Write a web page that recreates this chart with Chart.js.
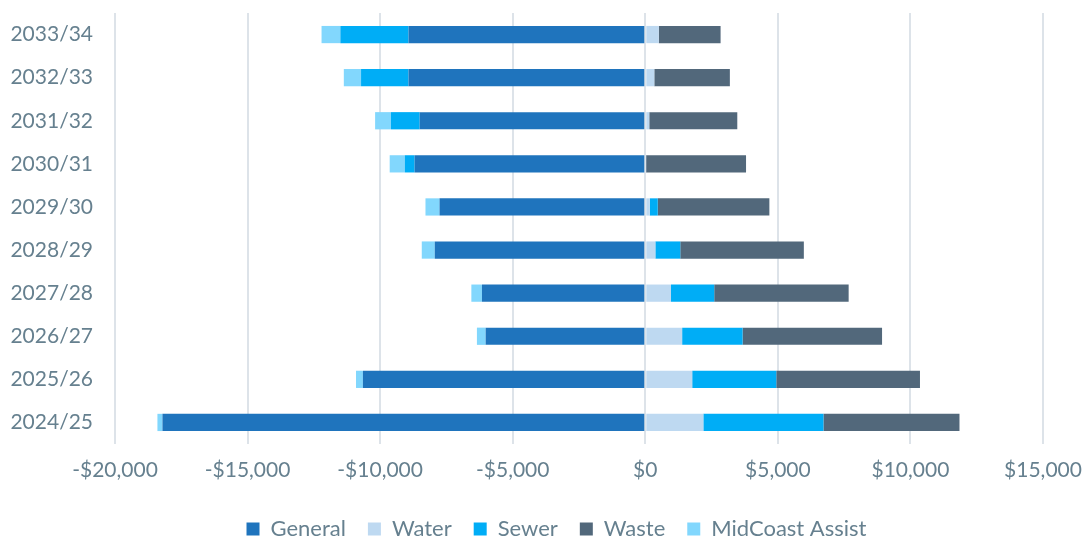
<!DOCTYPE html>
<html>
<head>
<meta charset="utf-8">
<script src="https://cdn.jsdelivr.net/npm/chart.js@4.4.1/dist/chart.umd.min.js"></script>
<style>
  html, body { margin: 0; padding: 0; background: #ffffff; }
  #wrap { width: 1083px; height: 537px; position: relative; }
</style>
</head>
<body>
<div id="wrap"><canvas id="c"></canvas></div>
<script>
// Financial years, oldest first (drawn bottom to top)
const years = ['2024/25', '2025/26', '2026/27', '2027/28', '2028/29',
               '2029/30', '2030/31', '2031/32', '2032/33', '2033/34'];

// Annual result by fund ($)
const general  = [-18210, -10650, -6020, -6160, -7940, -7760, -8700, -8510, -8930, -8930];
const water    = [2190, 1770, 1390, 970, 380, 170, 30, 150, 340, 510];
const sewer    = [4530, 3170, 2280, 1630, 940, 300, -370, -1080, -1790, -2570];
const waste    = [5130, 5420, 5260, 5070, 4660, 4210, 3770, 3320, 2850, 2330];
const midcoast = [-190, -260, -330, -400, -490, -530, -570, -600, -650, -710];

// Value axis ticks
const axisTicks = [-20000, -15000, -10000, -5000, 0, 5000, 10000, 15000];

const textColor = '#66808f';
const gridColor = '#dde3e9';
const fontFamily = 'Lato, "Open Sans", sans-serif';

function money(v) {
  const s = '$' + Math.abs(v).toLocaleString('en-US');
  return v < 0 ? '-' + s : s;
}

// Keeps the legend band compact and nudges it right and down a little
const legendPlacement = {
  id: 'legendPlacement',
  beforeLayout(chart) {
    const lg = chart.legend;
    if (lg && !lg._compactFit) {
      const baseFit = lg.fit;
      lg.fit = function () {
        baseFit.call(this);
        this.height = 50;
      };
      lg._compactFit = true;
    }
  },
  afterLayout(chart) {
    const lg = chart.legend;
    if (lg) {
      lg.left += 15;
      lg.right += 15;
      lg.top += 9;
      lg.bottom += 9;
    }
  }
};

new Chart(document.getElementById('c'), {
  type: 'bar',
  data: {
    labels: years,
    datasets: [
      { label: 'General',         data: general,  backgroundColor: '#1f74bd' },
      { label: 'Water',           data: water,    backgroundColor: '#bed9f1' },
      { label: 'Sewer',           data: sewer,    backgroundColor: '#00adf6' },
      { label: 'Waste',           data: waste,    backgroundColor: '#52687b' },
      { label: 'MidCoast Assist', data: midcoast, backgroundColor: '#82d7fd' }
    ]
  },
  plugins: [legendPlacement],
  options: {
    indexAxis: 'y',
    responsive: true,
    maintainAspectRatio: false,
    animation: false,
    datasets: { bar: { barPercentage: 0.4, categoryPercentage: 1.0, borderWidth: 0 } },
    layout: { padding: { left: 0, right: 0, top: 13, bottom: 0 } },
    plugins: {
      tooltip: { enabled: false },
      legend: {
        position: 'bottom',
        labels: {
          color: textColor,
          font: { family: fontFamily, size: 22 },
          boxWidth: 13,
          boxHeight: 13,
          padding: 22
        }
      }
    },
    scales: {
      x: {
        stacked: true,
        min: -20000,
        max: 15000,
        afterBuildTicks: (axis) => { axis.ticks = axisTicks.map(v => ({ value: v })); },
        afterFit: (axis) => {
          axis.height = 43;
          axis.paddingLeft = 0;
          axis.paddingRight = 40;
        },
        grid: { color: gridColor, lineWidth: 2, drawTicks: false },
        border: { display: false },
        ticks: {
          color: textColor,
          font: { family: fontFamily, size: 21 },
          padding: 14,
          maxRotation: 0,
          callback: (v) => money(v)
        }
      },
      y: {
        stacked: true,
        reverse: true,
        grid: { display: false, drawTicks: false },
        border: { display: false },
        afterFit: (axis) => {
          axis.width = 115;
          axis.paddingTop = 0;
          axis.paddingBottom = 0;
        },
        ticks: {
          color: textColor,
          font: { family: fontFamily, size: 21 },
          padding: 22
        }
      }
    }
  }
});
</script>
</body>
</html>
